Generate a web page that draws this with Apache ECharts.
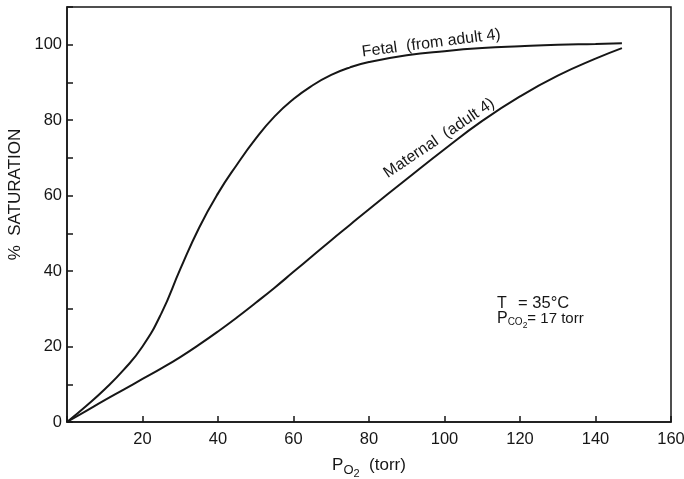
<!DOCTYPE html>
<html>
<head>
<meta charset="utf-8">
<title>Oxygen saturation</title>
<script src="https://cdn.jsdelivr.net/npm/echarts@6/dist/echarts.min.js"></script>
<style>
  html, body { margin: 0; padding: 0; background: #ffffff; }
  #chart { width: 684px; height: 479px; }
</style>
</head>
<body>
<div id="chart"></div>
<script>
// PO2 (torr) sample points
const po2 = [0, 5, 10, 15, 20, 25, 30, 35, 40, 45, 50, 55, 60, 65, 70, 75, 80, 90, 100, 110, 120, 130, 140, 147];
// % saturation
const fetal = [0, 4.2, 8.7, 13.8, 20, 28.8, 40.5, 51.5, 60.6, 68.2, 75.1, 81, 85.6, 89.2, 92, 94, 95.4, 97.2, 98.3, 99.1, 99.6, 100, 100.2, 100.4];
const maternal = [0, 2.9, 5.8, 8.6, 11.4, 14.2, 17.2, 20.5, 24, 27.7, 31.6, 35.6, 39.8, 44, 48.2, 52.3, 56.4, 64.4, 72.3, 79.8, 86.3, 91.8, 96.3, 99.1];

const xTicks = [20, 40, 60, 80, 100, 120, 140, 160];
const yTicks = [0, 20, 40, 60, 80, 100];

const ink = '#161616';
const font = '"Liberation Sans", Arial, Helvetica, sans-serif';

const chart = echarts.init(document.getElementById('chart'));

const pairs = (ys) => po2.map((x, i) => [x, ys[i]]);

chart.setOption({
  animation: false,
  backgroundColor: '#ffffff',
  textStyle: { fontFamily: font, color: ink },
  grid: {
    left: 67, right: 13, top: 7, bottom: 57,
    outerBoundsMode: 'none',
    containLabel: false,
    show: true, borderColor: ink, borderWidth: 1.5,
  },
  xAxis: {
    type: 'value',
    min: 0, max: 160, interval: 20,
    axisLine: { lineStyle: { color: ink, width: 1.5 } },
    axisTick: { inside: true, length: 6, lineStyle: { color: ink, width: 1.5 } },
    splitLine: { show: false },
    axisLabel: {
      color: ink, fontSize: 16.5, margin: 9,
      formatter: (v) => (xTicks.includes(v) ? String(v) : ''),
    },
    name: '{p|P}{s|O}{s2|2}{t|  (torr)}',
    nameLocation: 'middle',
    nameGap: 29,
    nameTextStyle: {
      rich: {
        p: { fontSize: 17, color: ink, fontFamily: font },
        s: { fontSize: 13, color: ink, fontFamily: font, padding: [10, 0, 0, 0] },
        s2: { fontSize: 11, color: ink, fontFamily: font, padding: [17, 0, 0, 0] },
        t: { fontSize: 17, color: ink, fontFamily: font },
      },
    },
  },
  yAxis: {
    type: 'value',
    min: 0, max: 110, interval: 10,
    axisLine: { lineStyle: { color: ink, width: 1.5 } },
    axisTick: { inside: true, length: 6, lineStyle: { color: ink, width: 1.5 } },
    splitLine: { show: false },
    axisLabel: {
      color: ink, fontSize: 16.5, margin: 5,
      formatter: (v) => (yTicks.includes(v) ? String(v) : ''),
    },
    name: '%  SATURATION',
    nameLocation: 'middle',
    nameRotate: 90,
    nameGap: 22,
    nameTextStyle: { fontSize: 17, color: ink, padding: [0, 0, 0, 40] },
  },
  series: [
    {
      name: 'Fetal',
      type: 'line',
      data: pairs(fetal),
      smooth: 0.5,
      symbol: 'none',
      lineStyle: { color: ink, width: 2 },
    },
    {
      name: 'Maternal',
      type: 'line',
      data: pairs(maternal),
      smooth: 0.5,
      symbol: 'none',
      lineStyle: { color: ink, width: 2 },
    },
  ],
});

// annotations, anchored in data space
function at(x, y) { return chart.convertToPixel({ gridIndex: 0 }, [x, y]); }

const fetalPos = at(96.5, 100.4);
const matPos = at(98.6, 75.2);
const tPos = at(113.9, 31.4);
const eqPos = at(119.5, 31.4);
const pPos = at(113.9, 27.3);

chart.setOption({
  graphic: [
    {
      type: 'text', x: fetalPos[0], y: fetalPos[1], rotation: 7.3 * Math.PI / 180,
      style: { text: 'Fetal  (from adult 4)', font: '16px ' + font, fill: ink, align: 'center', verticalAlign: 'middle' },
    },
    {
      type: 'text', x: matPos[0], y: matPos[1], rotation: 34 * Math.PI / 180,
      style: { text: 'Maternal  (adult 4)', font: '16px ' + font, fill: ink, align: 'center', verticalAlign: 'middle' },
    },
    {
      type: 'text', x: tPos[0], y: tPos[1],
      style: { text: 'T', font: '16px ' + font, fill: ink, align: 'left', verticalAlign: 'middle' },
    },
    {
      type: 'text', x: eqPos[0], y: eqPos[1],
      style: { text: '= 35°C', font: '16.5px ' + font, fill: ink, align: 'left', verticalAlign: 'middle' },
    },
    {
      type: 'text', x: pPos[0], y: pPos[1],
      style: {
        text: '{p|P}{s|CO}{s2|2}{t|= 17 torr}',
        align: 'left', verticalAlign: 'middle',
        rich: {
          p: { fontSize: 16, fill: ink, fontFamily: font },
          s: { fontSize: 10, fill: ink, fontFamily: font, padding: [7, 0, 0, 0] },
          s2: { fontSize: 8.5, fill: ink, fontFamily: font, padding: [13, 0, 0, 0] },
          t: { fontSize: 15, fill: ink, fontFamily: font },
        },
      },
    },
  ],
});
</script>
</body>
</html>
